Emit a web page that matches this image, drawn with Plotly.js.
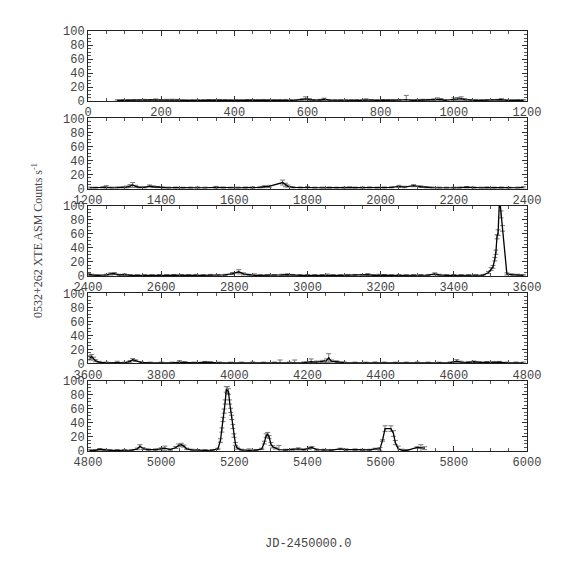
<!DOCTYPE html>
<html><head><meta charset="utf-8">
<script src="https://cdn.plot.ly/plotly-3.0.1.min.js"></script>
<style>body{margin:0;background:#fff}#c{width:574px;height:574px}</style>
</head><body><div id="c"></div>
<script>
// Panel x-ranges (JD-2450000.0)
const panelStarts = [0, 1200, 2400, 3600, 4800];
const panelSpan = 1200;

// Light curve: day, rate (counts/s), error
const days = [
80,95,110,125,140,155,170,185,200,215,230,245,258,270,285,300,315,330,345,360,375,390,405,420,435,450,465,480,495,510,525,540,555,570,585,595,605,615,635,645,660,675,690,705,720,735,750,760,775,790,805,820,835,850,870,885,900,915,930,945,955,965,975,1000,1010,1020,1030,1045,1060,1075,1090,1105,1120,1130,1145,1160,1175,1190,
1205,1220,1240,1250,1265,1280,1295,1305,1315,1322,1330,1340,1355,1368,1378,1390,1405,1420,1440,1460,1480,1500,1520,1550,1570,1590,1610,1630,1650,1670,1682,1695,1732,1740,1746,1760,1780,1800,1820,1840,1860,1880,1900,1915,1930,1950,1970,1990,2010,2030,2050,2065,2090,2110,2125,2140,2160,2180,2200,2215,2235,2255,2275,2290,2310,2330,2350,2375,2390,
2402,2410,2425,2450,2462,2472,2485,2500,2515,2535,2555,2575,2595,2615,2635,2655,2675,2695,2715,2735,2755,2775,2795,2812,2825,2840,2855,2870,2890,2910,2930,2945,2960,2980,3000,3020,3040,3055,3070,3090,3110,3130,3150,3165,3180,3195,3210,3230,3250,3270,3290,3310,3330,3348,3360,3380,3400,3420,3440,3460,3480,3495,3502,3507,3512,3515,3518,3521,3525,3529,3533,3545,3560,3575,3590,
3605,3610,3615,3620,3630,3650,3680,3700,3715,3722,3730,3745,3770,3800,3830,3850,3865,3890,3920,3935,3960,3990,4020,4050,4080,4110,4125,4150,4165,4190,4210,4225,4240,4252,4258,4265,4280,4300,4330,4360,4385,4410,4440,4470,4500,4530,4560,4590,4608,4620,4640,4655,4670,4690,4710,4725,4745,4770,4790,
4805,4820,4832,4845,4860,4880,4900,4920,4935,4942,4950,4965,4985,5000,5010,5025,5040,5048,5055,5062,5070,5085,5100,5120,5140,5155,5162,5166,5169,5172,5175,5178,5181,5184,5187,5190,5193,5196,5199,5203,5208,5220,5240,5260,5275,5282,5287,5291,5295,5300,5305,5312,5322,5340,5360,5375,5390,5405,5412,5425,5445,5465,5490,5505,5530,5550,5570,5585,5598,5605,5612,5628,5635,5640,5648,5660,5672,5700,5710,5720
];
const rates = [
0.8,1.0,0.9,1.2,1.0,1.3,1.1,1.5,1.2,1.4,1.6,1.3,0.8,0.6,0.8,1.0,0.9,1.1,0.9,1.0,1.2,0.8,1.0,0.9,1.1,1.0,0.8,1.2,1.0,0.9,1.1,1.3,1.0,1.2,1.8,3.0,2.0,1.2,1.4,2.5,1.2,1.0,1.1,0.9,1.0,1.2,1.0,1.6,1.0,0.9,1.1,1.0,0.8,1.2,2.0,1.0,1.1,1.5,1.3,1.8,3.0,2.2,1.0,2.5,3.0,3.5,2.0,1.2,1.0,0.9,1.1,1.0,1.3,2.0,1.0,0.9,1.1,1.0,
1.0,0.9,1.5,2.0,1.0,1.2,1.5,2.0,3.5,5.0,3.0,1.5,1.5,3.5,2.5,2.0,1.2,1.0,1.1,0.8,1.0,1.2,0.9,1.5,1.0,0.9,1.0,1.1,1.0,1.5,2.5,3.0,8.5,5.0,3.5,1.5,1.2,1.0,0.9,1.0,1.1,0.9,1.0,1.5,1.0,1.1,1.3,1.0,1.2,1.5,3.0,2.0,4.0,2.5,1.5,1.2,1.0,0.9,1.0,1.1,1.8,1.0,0.9,1.2,1.0,1.1,0.9,1.0,1.5,
2.5,1.5,0.8,1.5,3.0,3.5,1.5,2.0,1.0,0.8,0.9,1.0,1.1,1.0,1.2,0.9,1.0,1.2,1.0,1.3,1.0,1.5,3.5,6.0,3.0,1.5,1.0,1.0,0.9,1.0,1.5,2.0,1.2,1.0,0.9,1.0,1.1,1.8,1.0,0.9,1.0,1.2,1.0,2.0,1.0,1.5,1.2,0.9,1.0,0.8,1.0,1.1,1.2,3.0,1.5,1.0,1.1,1.0,0.9,1.0,1.2,5.0,10,13,24,34,56,62,112,88,68,3.0,2.0,1.5,1.0,
8,10,7,4,2,1.0,1.2,1.0,3.0,5.5,4.0,1.5,1.0,0.9,1.0,2.0,1.5,1.0,2.0,1.5,1.0,0.9,1.0,1.2,0.9,1.0,1.5,1.0,1.5,1.2,2.5,2.0,3.0,4.0,8.0,3.5,2.5,1.2,1.0,0.9,1.2,1.0,0.9,1.0,1.1,1.0,0.9,1.2,3.5,2.0,1.5,2.5,1.5,1.8,1.2,2.0,1.0,1.1,1.0,
0.8,1.0,2.5,1.5,1.0,0.9,1.0,1.2,3.0,7.0,3.5,2.0,2.0,3.0,4.0,2.0,5.0,8.0,9.0,7.0,3.0,1.5,1.0,0.9,1.2,3.0,15,30,45,57,70,88,87,85,70,58,48,35,22,10,4,1.5,1.0,1.2,3,12,22,24,20,10,6,4,2,1.5,2.0,3.0,2.0,4.0,5.0,2.0,1.5,1.2,3.0,2.0,2.0,1.5,1.5,3.0,3.0,15,32,32,25,12,3,1.0,1.0,5,4,4
];
const errs = [
1,1,1,1,1,1,1,1.5,1,1,1,1,1,1,1,1,1,1,1,1,1,1,1,1,1,1,1,1,1,1,1,1,1,1,1.2,3,1.5,1,1,1.5,1,1,1,1,1,1,1,1.5,1,1,1,1,1,1,6,1,1,1,1,1.2,1.5,1.2,1,2,2,2.5,1.5,1,1,1,1,1,1,1.5,1,1,1,1,
1,1,1,2,1,1,1,1.5,2,3.5,1.5,1,1,1.5,1.2,1,1,1,1,1,1,1,1,1.5,1,1,1,1,1,1,1.5,1.5,3.5,2.5,1.5,1,1,2,1,1,1,1,1,1,1,1,1,1,1,1,1.5,1.2,1.5,1.2,1,1,1,1,1,1,1,1,1,1,1,1,1,1,1,
1.5,1,1,1,1.5,1.5,1,1,1,1,1,1,1,1,1,1,1,1,1,1,1,1,1.5,3,1.5,1,2,1,1,1,1,1.2,1,1,1,1,1,1,1,1,1,1,1,1.5,1,1,1,1,1,1,1,1,1,1.5,1,1,1,1,1,1,1,1.5,2,2,2.5,3,3,4,5,5,4,1.5,1,1,1,
3,3,2,1.5,1,1,2,1,1.2,1.5,1.2,1,1,1,1,2,1,1,1,1,1,1,1,1,1,1,3.5,1,3.5,1,4,1.5,1.5,2.5,6,1.5,1.2,1,1,1,1,1,1,1,1,1,1,1,2,1.2,1,1,1,1,1,1,1,1,1,
1,1,1,1,1,1,1,1,1.2,2,1.5,1,1,1.5,3,1,1.5,2,2,1.5,1,1,1,1,1,1,2.5,3,3,3,3,4,5,4,3,3,3,3,2.5,2,1.5,1,2,1,1,2,2.5,2.5,2,2,1.5,1.2,6,1,1,1.5,1,1.5,1.5,1,1,1,1,1,1,1,1,1,2,1,4,4,4,3,4,1.5,1,1,5,2,1.5
];

const tickFont = {family: 'Liberation Mono, DejaVu Sans Mono, monospace', size: 12, color: '#444'};
const nP = panelStarts.length;
const hStep = 0.20833, hPanel = 0.16667;

const traces = [];
const layout = {
  width: 574, height: 574,
  margin: {l: 88, r: 47, t: 31, b: 123},
  paper_bgcolor: '#fff', plot_bgcolor: '#fff',
  showlegend: false,
  annotations: []
};

for (let k = 0; k < nP; k++) {
  const x0 = panelStarts[k], x1 = x0 + panelSpan;
  const xs = [], ys = [], es = [];
  for (let i = 0; i < days.length; i++) {
    if (days[i] >= x0 && days[i] < x1) { xs.push(days[i]); ys.push(rates[i]); es.push(errs[i]); }
  }
  const sfx = k === 0 ? '' : String(k + 1);
  traces.push({
    type: 'scatter', mode: 'lines',
    x: xs, y: ys,
    xaxis: 'x' + sfx, yaxis: 'y' + sfx,
    line: {color: '#000', width: 1.3},
    error_y: {type: 'data', array: es, visible: true, color: '#777', thickness: 1, width: 2.5},
    cliponaxis: true, hoverinfo: 'skip'
  });
  const top = 1 - k * hStep;
  const dom = [Math.max(0, top - hPanel), top];
  layout['xaxis' + sfx] = {
    domain: [0, 1], anchor: 'y' + sfx, range: [x0, x1],
    dtick: 200, tick0: 0, ticks: 'inside', ticklen: 5, tickcolor: '#333', tickwidth: 1,
    minor: {dtick: 50, ticks: 'inside', ticklen: 3, tickcolor: '#555'},
    showline: true, linecolor: '#222', linewidth: 1, mirror: 'ticks',
    showgrid: false, zeroline: false, tickfont: tickFont
  };
  layout['yaxis' + sfx] = {
    domain: dom, anchor: 'x' + sfx, range: [0, 100],
    dtick: 20, tick0: 0, ticks: 'inside', ticklen: 5, tickcolor: '#333', tickwidth: 1,
    minor: {dtick: 5, ticks: 'inside', ticklen: 3, tickcolor: '#555'},
    showline: true, linecolor: '#222', linewidth: 1, mirror: 'ticks',
    showgrid: false, zeroline: false, tickfont: tickFont
  };
}

layout.annotations.push({
  xref: 'paper', yref: 'paper', x: -0.116, y: 0.5, xanchor: 'center', yanchor: 'middle',
  text: '0532+262 XTE ASM Counts s<sup>-1</sup>', textangle: -90, showarrow: false,
  font: {family: 'Liberation Serif, DejaVu Serif, serif', size: 12, color: '#444'}
});
layout.annotations.push({
  xref: 'paper', yref: 'paper', x: 0.5, y: -0.221, xanchor: 'center', yanchor: 'middle',
  text: 'JD-2450000.0', showarrow: false,
  font: {family: 'Liberation Mono, DejaVu Sans Mono, monospace', size: 12, color: '#444'}
});

Plotly.newPlot('c', traces, layout, {staticPlot: true, displayModeBar: false});
</script>
</body></html>
